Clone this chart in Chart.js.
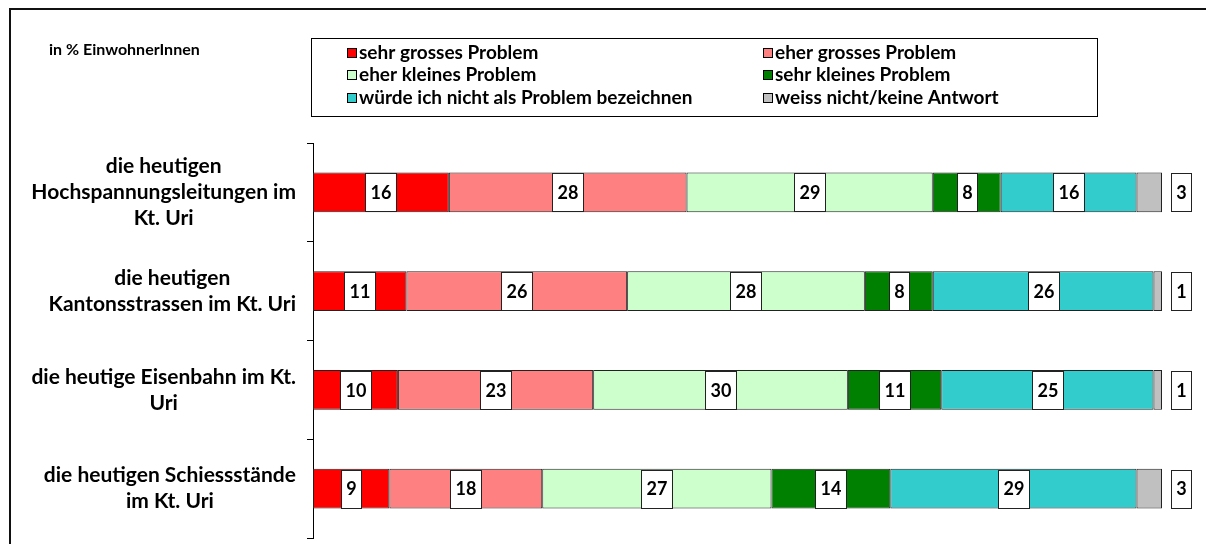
<!DOCTYPE html>
<html>
<head>
<meta charset="utf-8">
<script src="https://cdn.jsdelivr.net/npm/chart.js@4/dist/chart.umd.min.js"></script>
<style>
  html, body { margin: 0; padding: 0; background: #fff; }
  #wrap { width: 1206px; height: 544px; position: relative; }
</style>
</head>
<body>
<div id="wrap"><canvas id="chart" width="1206" height="544"></canvas></div>
<script>
// categories (multi-line labels) and series
const categories = [
    ['die heutigen', 'Hochspannungsleitungen im', 'Kt. Uri'],
    ['die heutigen', 'Kantonsstrassen im Kt. Uri'],
    ['die heutige Eisenbahn im Kt.', 'Uri'],
    ['die heutigen Schiessstände', 'im Kt. Uri']
];
const seriesNames = [
    'sehr grosses Problem',
    'eher grosses Problem',
    'eher kleines Problem',
    'sehr kleines Problem',
    'würde ich nicht als Problem bezeichnen',
    'weiss nicht/keine Antwort'
];
const sehrGross = [16, 11, 10, 9];
const eherGross = [28, 26, 23, 18];
const eherKlein = [29, 28, 30, 27];
const sehrKlein = [8, 8, 11, 14];
const keinProblem = [16, 26, 25, 29];
const weissNicht = [3, 1, 1, 3];
const colors = ['#ff0000', '#ff8080', '#ccffcc', '#008000', '#33cccc', '#c0c0c0'];
const unitNote = 'in % EinwohnerInnen';

const FONT = 'Lato, "Open Sans", sans-serif';
const seriesValues = [sehrGross, eherGross, eherKlein, sehrKlein, keinProblem, weissNicht];

const frameAndLegend = {
    id: 'frameAndLegend',
    afterDraw(chart) {
        const ctx = chart.ctx;
        ctx.save();
        // outer frame (top and left)
        ctx.strokeStyle = '#111';
        ctx.lineWidth = 2;
        ctx.beginPath();
        ctx.moveTo(1206, 9);
        ctx.lineTo(10, 9);
        ctx.lineTo(10, 544);
        ctx.stroke();

        ctx.fillStyle = '#000';
        ctx.font = 'bold 16px ' + FONT;
        ctx.textBaseline = 'middle';
        ctx.textAlign = 'left';
        ctx.fillText(unitNote, 49, 50);

        // legend box
        ctx.lineWidth = 1;
        ctx.strokeStyle = '#000';
        ctx.strokeRect(311.5, 38.5, 786, 78);
        const colX = [347, 763];
        const rowY = [53, 75, 98];
        ctx.font = 'bold 19px ' + FONT;
        chart.data.datasets.forEach((ds, i) => {
            const x = colX[i % 2];
            const y = rowY[Math.floor(i / 2)];
            ctx.fillStyle = ds.backgroundColor;
            ctx.fillRect(x + 0.5, y - 4.5, 9, 9);
            ctx.strokeStyle = '#000';
            ctx.strokeRect(x + 0.5, y - 4.5, 9, 9);
            ctx.fillStyle = '#000';
            ctx.fillText(ds.label, x + 12, y);
        });

        // category labels, right-aligned blocks, lines centered
        const yScale = chart.scales.y;
        ctx.font = 'bold 21px ' + FONT;
        ctx.textAlign = 'center';
        const lineH = 26;
        chart.data.labels.forEach((lines, i) => {
            const widest = Math.max(...lines.map(l => ctx.measureText(l).width));
            const cx = 296 - widest / 2;
            const cy = yScale.getPixelForValue(i);
            lines.forEach((l, k) => {
                ctx.fillText(l, cx, cy + (k - (lines.length - 1) / 2) * lineH);
            });
        });
        ctx.restore();
    }
};

const valueBoxes = {
    id: 'valueBoxes',
    afterDatasetsDraw(chart) {
        const ctx = chart.ctx;
        const n = chart.data.datasets.length;
        ctx.save();
        ctx.font = 'bold 18px ' + FONT;
        ctx.textAlign = 'center';
        ctx.textBaseline = 'middle';
        chart.data.datasets.forEach((ds, di) => {
            const meta = chart.getDatasetMeta(di);
            meta.data.forEach((bar, i) => {
                const p = bar.getProps(['x', 'base', 'y', 'height'], true);
                const txt = String(ds.data[i]);
                const cx = di === n - 1 ? chart.chartArea.right + 19 : (p.x + p.base) / 2;
                const w = Math.round(ctx.measureText(txt).width + 10);
                const h = Math.round(p.height) - 2;
                const left = Math.round(cx - w / 2) + 0.5;
                const top = Math.round(p.y - h / 2) + 0.5;
                ctx.fillStyle = '#fff';
                ctx.fillRect(left, top, w, h);
                ctx.strokeStyle = '#222';
                ctx.lineWidth = 1;
                ctx.strokeRect(left, top, w, h);
                ctx.fillStyle = '#000';
                ctx.fillText(txt, left + w / 2, p.y + 1);
            });
        });
        ctx.restore();
    }
};

new Chart(document.getElementById('chart'), {
    type: 'bar',
    data: {
        labels: categories,
        datasets: seriesNames.map((name, i) => ({
            label: name,
            data: seriesValues[i],
            backgroundColor: colors[i],
            borderColor: '#222',
            borderWidth: 1,
            borderSkipped: false,
            barPercentage: 1,
            categoryPercentage: 0.405
        }))
    },
    options: {
        indexAxis: 'y',
        responsive: false,
        animation: false,
        layout: { padding: { top: 143, bottom: 6, left: 0, right: 44 } },
        plugins: {
            legend: { display: false },
            tooltip: { enabled: false },
            title: { display: false }
        },
        scales: {
            x: {
                stacked: true,
                min: 0,
                max: 100,
                display: false
            },
            y: {
                stacked: true,
                afterFit(scale) { scale.width = 313; },
                ticks: { display: false },
                grid: {
                    drawOnChartArea: false,
                    drawTicks: true,
                    tickLength: 6,
                    color: '#000'
                },
                border: { display: true, color: '#000', width: 1 }
            }
        }
    },
    plugins: [frameAndLegend, valueBoxes]
});
</script>
</body>
</html>
